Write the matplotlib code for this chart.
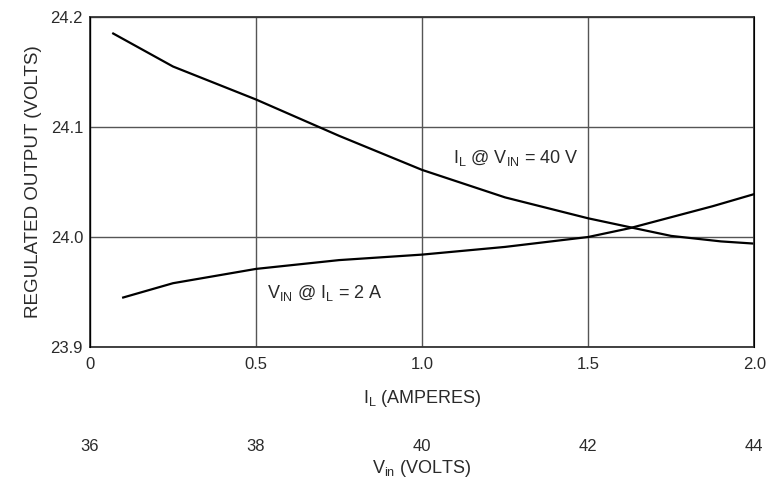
import matplotlib

matplotlib.use("Agg")
import matplotlib.pyplot as plt

plt.rcParams["font.family"] = ["Liberation Sans", "DejaVu Sans"]
plt.rcParams["mathtext.fontset"] = "custom"
plt.rcParams["mathtext.rm"] = "Liberation Sans"
plt.rcParams["mathtext.it"] = "Liberation Sans"

# regulated output vs load current, Vin = 40 V
il_amps = [0.07, 0.25, 0.5, 0.75, 1.0, 1.25, 1.5, 1.64, 1.75, 1.9, 2.0]
vout_vs_il = [24.185, 24.155, 24.125, 24.092, 24.061, 24.036, 24.017,
              24.008, 24.001, 23.996, 23.994]

# regulated output vs input voltage, IL = 2 A
vin_volts = [36.4, 37.0, 38.0, 39.0, 40.0, 41.0, 42.0, 42.5, 43.0, 43.5, 44.0]
vout_vs_vin = [23.945, 23.958, 23.971, 23.979, 23.984, 23.991, 24.000, 24.008,
               24.018, 24.028, 24.039]

il_ticks = [0, 0.5, 1.0, 1.5, 2.0]
il_labels = ["0", "0.5", "1.0", "1.5", "2.0"]
vin_ticks = [36, 38, 40, 42, 44]
vout_ticks = [23.9, 24.0, 24.1, 24.2]

text_color = "#2a2a2a"

fig = plt.figure(figsize=(7.67, 4.86), dpi=100)
ax = fig.add_axes([0.1173, 0.286, 0.866, 0.679])

ax.plot(il_amps, vout_vs_il, color="black", lw=1.6)
ax.set_xlim(0, 2.0)
ax.set_ylim(23.9, 24.2)
ax.set_xticks(il_ticks)
ax.set_xticklabels(il_labels)
ax.set_yticks(vout_ticks)
ax.grid(True, color="#555555", lw=1.0)
ax.tick_params(length=0, labelsize=12, colors=text_color, pad=7)
ax.tick_params(axis="y", pad=5)
for s in ax.spines.values():
    s.set_color("#333333")
    s.set_linewidth(1.3)
ax.set_xlabel(r"I$_\mathregular{L}$ (AMPERES)", fontsize=13, color=text_color, labelpad=12)
ax.set_ylabel("REGULATED OUTPUT (VOLTS)", fontsize=13.5, color=text_color, labelpad=6)

ax2 = ax.twiny()
ax2.plot(vin_volts, vout_vs_vin, color="black", lw=1.6)
ax2.set_xlim(36, 44)
ax2.set_xticks(vin_ticks)
ax2.xaxis.set_ticks_position("bottom")
ax2.xaxis.set_label_position("bottom")
ax2.spines["bottom"].set_position(("outward", 66))
ax2.spines["bottom"].set_visible(False)
ax2.spines["top"].set_visible(False)
ax2.tick_params(length=0, labelsize=12, colors=text_color, pad=0)
ax2.set_xlabel(r"V$_\mathregular{in}$ (VOLTS)", fontsize=13, color=text_color, labelpad=3)

ax.text(1.093, 24.067, r"I$_\mathregular{L}$ @ V$_\mathregular{IN}$ = 40 V", fontsize=13, color=text_color)
ax.text(0.533, 23.945, r"V$_\mathregular{IN}$ @ I$_\mathregular{L}$ = 2 A", fontsize=13, color=text_color)

fig.savefig("out.png", dpi=100)
